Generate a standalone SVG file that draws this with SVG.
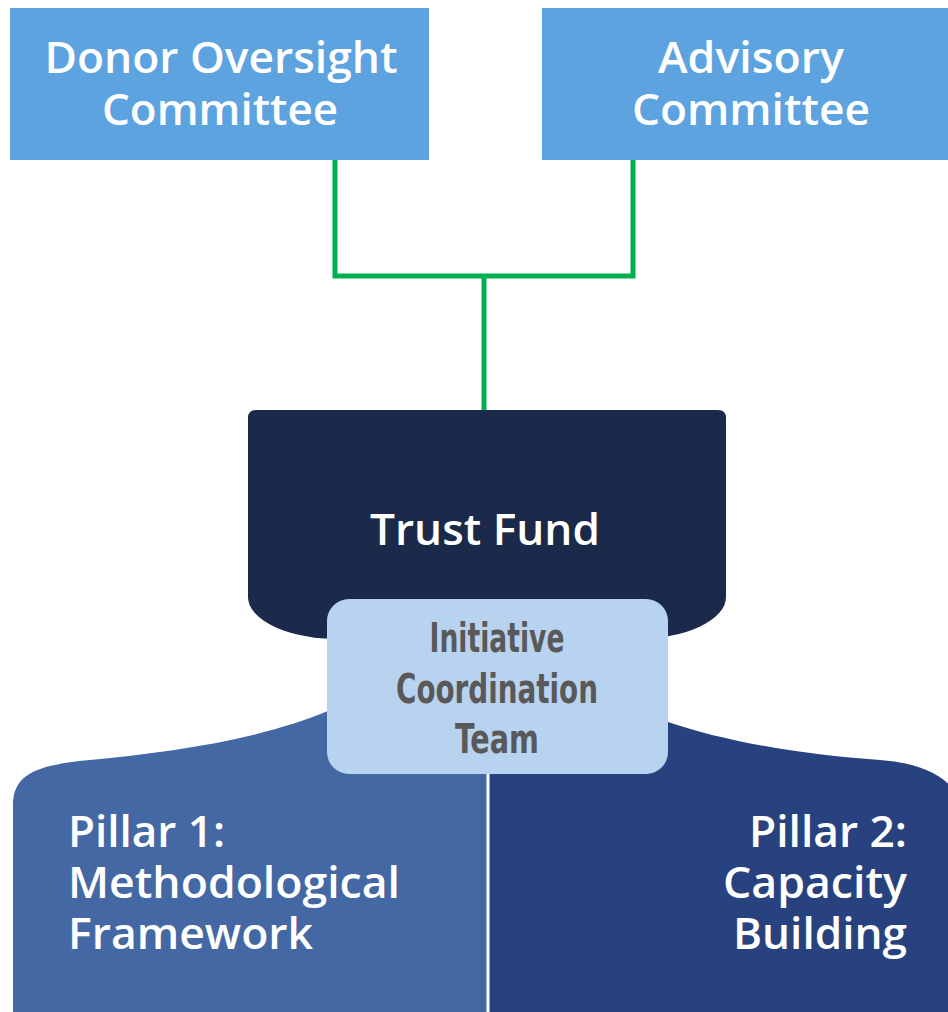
<svg xmlns="http://www.w3.org/2000/svg" width="948" height="1012" viewBox="0 0 948 1012">
<style>
.lbl{font-family:"Open Sans","Noto Sans","Liberation Sans",sans-serif;font-weight:600;font-size:44px;fill:#ffffff}
.ict{font-family:"Liberation Sans Narrow","DejaVu Sans Condensed","Liberation Sans",sans-serif;font-weight:700;font-size:40px;fill:#595959;font-stretch:condensed}
.conn{fill:none;stroke:#00B050;stroke-width:5}
</style>
<rect width="948" height="1012" fill="#ffffff"/>
<g id="connectors">
<path class="conn" d="M335,160 V276 H633 V160"/>
<path class="conn" d="M484,276 V412"/>
</g>
<g id="donor-oversight">
<rect x="10" y="8" width="419" height="152" fill="#5DA3E0"/>
<text class="lbl" x="221" y="73" text-anchor="middle" textLength="353" lengthAdjust="spacingAndGlyphs">Donor Oversight</text>
<text class="lbl" x="220" y="125" text-anchor="middle" textLength="236" lengthAdjust="spacingAndGlyphs">Committee</text>
</g>
<g id="advisory">
<rect x="542" y="8" width="406" height="152" fill="#5DA3E0"/>
<text class="lbl" x="751" y="73" text-anchor="middle" textLength="186" lengthAdjust="spacingAndGlyphs">Advisory</text>
<text class="lbl" x="751" y="125" text-anchor="middle" textLength="238" lengthAdjust="spacingAndGlyphs">Committee</text>
</g>
<g id="pillar1">
<path d="M13,1012 V805 C13,775 35,765 90,760 C170,752 260,740 330,710 L488,705 V1012 Z" fill="#4468A3"/>
<text class="lbl" x="68" y="847" textLength="157" lengthAdjust="spacingAndGlyphs">Pillar 1:</text>
<text class="lbl" x="68" y="898" textLength="332" lengthAdjust="spacingAndGlyphs">Methodological</text>
<text class="lbl" x="68" y="949" textLength="245" lengthAdjust="spacingAndGlyphs">Framework</text>
</g>
<g id="pillar2">
<path d="M488,705 L668,722 C720,740 800,755 880,760 C920,763 948,775 960,800 V1012 H488 Z" fill="#28427F"/>
<text class="lbl" x="907" y="847" text-anchor="end" textLength="158" lengthAdjust="spacingAndGlyphs">Pillar 2:</text>
<text class="lbl" x="907" y="898" text-anchor="end" textLength="184" lengthAdjust="spacingAndGlyphs">Capacity</text>
<text class="lbl" x="907" y="949" text-anchor="end" textLength="174" lengthAdjust="spacingAndGlyphs">Building</text>
</g>
<line x1="488" y1="770" x2="488" y2="1012" stroke="#ffffff" stroke-width="3"/>
<g id="trust-fund">
<path d="M256,410 H718 Q726,410 726,418 V597 A90,42 0 0 1 636,639 H338 A90,42 0 0 1 248,597 V418 Q248,410 256,410 Z" fill="#1B2A4A"/>
<text class="lbl" x="485" y="545" text-anchor="middle" textLength="230" lengthAdjust="spacingAndGlyphs">Trust Fund</text>
</g>
<g id="coordination-team">
<rect x="327" y="599" width="341" height="175" rx="22" fill="#B8D3F0"/>
<text class="ict" x="497" y="652" text-anchor="middle" textLength="135" lengthAdjust="spacingAndGlyphs">Initiative</text>
<text class="ict" x="497" y="703" text-anchor="middle" textLength="202" lengthAdjust="spacingAndGlyphs">Coordination</text>
<text class="ict" x="497" y="753" text-anchor="middle" textLength="84" lengthAdjust="spacingAndGlyphs">Team</text>
</g>
</svg>
